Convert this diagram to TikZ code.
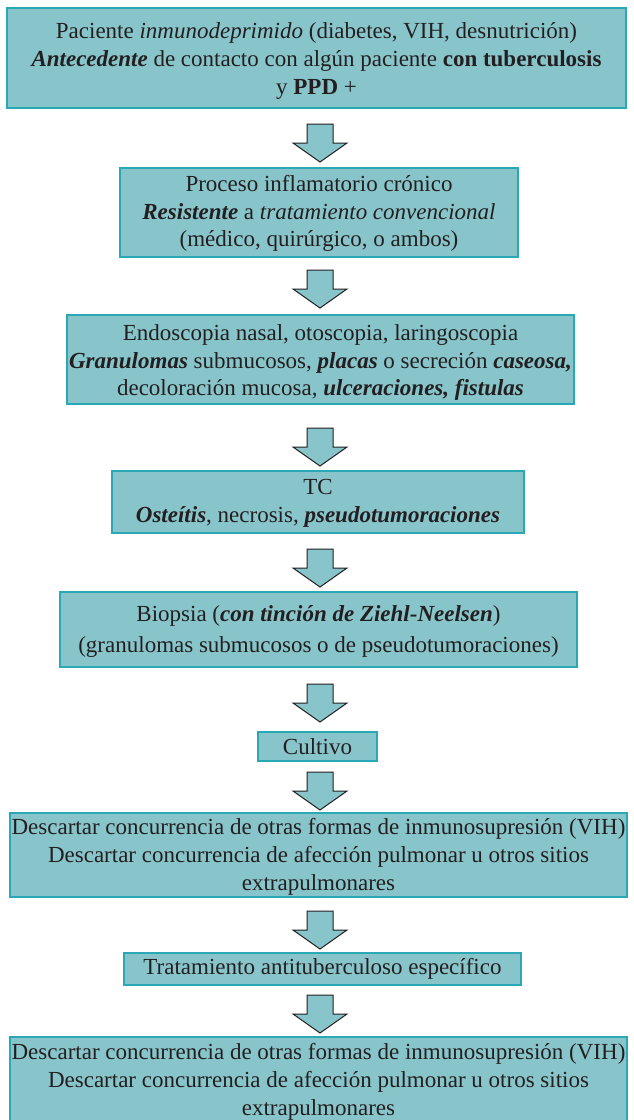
\documentclass[tikz,border=0pt]{standalone}
\usepackage{fontspec}
\setmainfont{Liberation Serif}
\definecolor{boxfill}{RGB}{136,197,203}
\definecolor{boxline}{RGB}{43,168,182}
\definecolor{ink}{RGB}{35,31,32}
\tikzset{
  box/.style={draw=boxline, fill=boxfill, line width=1.3pt, inner sep=0pt},
  txt/.style={align=center, inner sep=0pt, text=ink, font=\fontsize{23}{27.7}\selectfont},
  darrow/.pic={\draw[fill=boxfill, draw=ink, line width=1pt, line join=miter]
     (-13,0) -- (13,0) -- (13,19) -- (27,19) -- (0,38) -- (-27,19) -- (-13,19) -- cycle;}
}
\newcommand{\bi}[1]{\textbf{\textit{#1}}}
\begin{document}
\begin{tikzpicture}[x=1pt,y=-1pt]
\useasboundingbox (0,0) rectangle (634,1120);
\node[box, minimum width=619pt, minimum height=100pt] (b1) at (316.5,58) {};
\node[txt] (t1) at ([yshift=-3pt]b1.center)
 {Paciente \textit{inmunodeprimido} (diabetes, VIH, desnutrición)\\
  \bi{Antecedente} de contacto con algún paciente \textbf{con tuberculosis}\\
  y \textbf{PPD} +};
\pic at (320,124) {darrow};
\node[box, minimum width=398pt, minimum height=89pt] (b2) at (319,212.5) {};
\node[txt] (t2) at ([yshift=-1pt]b2.center)
 {Proceso inflamatorio crónico\\
  \bi{Resistente} a \textit{tratamiento convencional}\\
  (médico, quirúrgico, o ambos)};
\pic at (320,270) {darrow};
\node[box, minimum width=507pt, minimum height=89pt] (b3) at (320.5,359.5) {};
\node[txt] (t3) at ([yshift=-3pt]b3.center)
 {Endoscopia nasal, otoscopia, laringoscopia\\
  \bi{Granulomas} submucosos, \bi{placas} o secreción \bi{caseosa,}\\
  decoloración mucosa, \bi{ulceraciones, fistulas}};
\pic at (320,428) {darrow};
\node[box, minimum width=412pt, minimum height=62pt] (b4) at (318,502) {};
\node[txt] (t4) at ([yshift=-1pt]b4.center)
 {TC\\ \bi{Osteítis}, necrosis, \bi{pseudotumoraciones}};
\pic at (320,549) {darrow};
\node[box, minimum width=517pt, minimum height=75pt] (b5) at (318.5,629.5) {};
\node[txt, font=\fontsize{23}{31}\selectfont] (t5) at ([yshift=-2pt]b5.center)
 {Biopsia (\bi{con tinción de Ziehl-Neelsen})\\
  (granulomas submucosos o de pseudotumoraciones)};
\pic at (320,684) {darrow};
\node[box, minimum width=119pt, minimum height=29pt] (b6) at (317.5,746.5) {};
\node[txt] (t6) at (b6.center) {Cultivo};
\pic at (320,772) {darrow};
\node[box, minimum width=617pt, minimum height=84pt] (b7) at (318.5,855) {};
\node[txt] (t7) at ([yshift=-2pt]b7.center)
 {Descartar concurrencia de otras formas de inmunosupresión (VIH)\\
  Descartar concurrencia de afección pulmonar u otros sitios\\
  extrapulmonares};
\pic at (320,911) {darrow};
\node[box, minimum width=397pt, minimum height=32pt] (b8) at (322.5,969) {};
\node[txt] (t8) at (b8.center) {Tratamiento antituberculoso específico};
\pic at (320,995) {darrow};
\node[box, minimum width=617pt, minimum height=88pt] (b9) at (318.5,1081) {};
\node[txt] (t9) at ([yshift=-1pt]b9.center)
 {Descartar concurrencia de otras formas de inmunosupresión (VIH)\\
  Descartar concurrencia de afección pulmonar u otros sitios\\
  extrapulmonares};
\end{tikzpicture}
\end{document}
